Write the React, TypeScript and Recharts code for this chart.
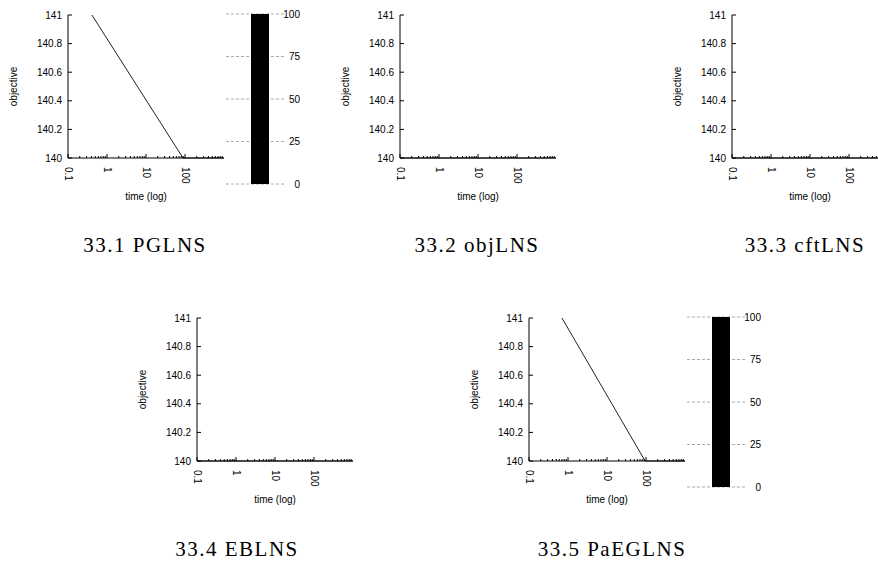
import { LineChart, Line, XAxis, YAxis, BarChart, Bar, CartesianGrid } from 'recharts'

// objective over time, one row per run
const pglnsTime = [0.41, 89, 1000]
const pglnsObjective = [141, 140, 140]
const objlnsTime = [0.1, 1000]
const objlnsObjective = [140, 140]
const cftlnsTime = [0.1, 1000]
const cftlnsObjective = [140, 140]
const eblnsTime = [0.1, 1000]
const eblnsObjective = [140, 140]
const paeglnsTime = [0.7, 95, 1000]
const paeglnsObjective = [141, 140, 140]

// share bars next to the PGLNS / PaEGLNS plots
const pglnsShare = [100]
const paeglnsShare = [100]

const majorTimeTicks = [0.1, 1, 10, 100]
const minorTimeTicks = [
  0.2, 0.3, 0.4, 0.5, 0.6, 0.7, 0.8, 0.9,
  2, 3, 4, 5, 6, 7, 8, 9,
  20, 30, 40, 50, 60, 70, 80, 90,
  200, 300, 400, 500, 600, 700, 800, 900,
]
const objectiveTicks = [140, 140.2, 140.4, 140.6, 140.8, 141]
const shareTicks = [0, 25, 50, 75, 100]

const sans = '"Liberation Sans", Arial, sans-serif'

const toRows = (time: number[], obj: number[]) => time.map((t, i) => ({ t, v: obj[i] }))

function TimeTick({ x, y, payload }: any) {
  const v = payload.value
  const major = majorTimeTicks.includes(v)
  const ty = y + 9
  return (
    <g>
      <line x1={x} x2={x} y1={y} y2={y - (major ? 4 : 2)} stroke="#000" strokeWidth={1} />
      {major && (
        <text
          x={x}
          y={ty}
          dy="0.35em"
          transform={`rotate(90 ${x} ${ty})`}
          fontSize={10}
          fontFamily={sans}
          fill="#000"
          textAnchor="start"
        >
          {v}
        </text>
      )}
    </g>
  )
}

function ObjectiveTick({ x, y, payload }: any) {
  return (
    <g>
      <line x1={x + 6} x2={x + 10} y1={y} y2={y} stroke="#000" strokeWidth={1} />
      <text x={x} y={y} dy="0.35em" fontSize={10} fontFamily={sans} fill="#000" textAnchor="end">
        {payload.value}
      </text>
    </g>
  )
}

function ShareTick({ x, y, payload }: any) {
  return (
    <text x={x + 14} y={y} dy="0.35em" fontSize={10} fontFamily={sans} fill="#000" textAnchor="end">
      {payload.value}
    </text>
  )
}

function LogPanel({ axisX, topY, rows }: { axisX: number; topY: number; rows: { t: number; v: number }[] }) {
  return (
    <div style={{ position: 'absolute', left: axisX - 68, top: topY - 15 }}>
      <LineChart width={240} height={205} data={rows} margin={{ top: 15, right: 16, left: 0, bottom: 12 }}>
        <XAxis
          dataKey="t"
          type="number"
          scale="log"
          domain={[0.1, 1000]}
          ticks={[...majorTimeTicks, ...minorTimeTicks]}
          interval={0}
          tickSize={0}
          tickMargin={0}
          tickLine={false}
          tick={<TimeTick />}
          height={35}
          axisLine={{ stroke: '#000' }}
          label={{ value: 'time (log)', position: 'bottom', offset: 0, fontSize: 10, fontFamily: sans, fill: '#000' }}
        />
        <YAxis
          type="number"
          domain={[140, 141]}
          ticks={objectiveTicks}
          interval={0}
          width={68}
          tickSize={0}
          tickMargin={6}
          tickLine={false}
          tick={<ObjectiveTick />}
          axisLine={{ stroke: '#000' }}
          label={{
            value: 'objective',
            angle: -90,
            position: 'insideLeft',
            offset: 13,
            fontSize: 10,
            fontFamily: sans,
            fill: '#000',
            style: { textAnchor: 'middle' },
          }}
        />
        <Line dataKey="v" type="linear" stroke="#222" strokeWidth={1} dot={false} isAnimationActive={false} />
      </LineChart>
    </div>
  )
}

function SharePanel({ gridX, topY, values }: { gridX: number; topY: number; values: number[] }) {
  const rows = values.map((v) => ({ name: '', v }))
  return (
    <div style={{ position: 'absolute', left: gridX, top: topY - 6 }}>
      <BarChart width={76} height={182} data={rows} margin={{ top: 6, right: 0, left: 0, bottom: 6 }} barSize={18}>
        <CartesianGrid vertical={false} stroke="#aaa" strokeDasharray="3 2" />
        <XAxis dataKey="name" hide padding={{ left: 8, right: 0 }} />
        <YAxis
          orientation="right"
          type="number"
          domain={[0, 100]}
          ticks={shareTicks}
          interval={0}
          width={16}
          tickSize={0}
          tickMargin={0}
          tickLine={false}
          axisLine={false}
          tick={<ShareTick />}
        />
        <Bar dataKey="v" fill="#000" isAnimationActive={false} />
      </BarChart>
    </div>
  )
}

function Caption({ cx, baseline, text }: { cx: number; baseline: number; text: string }) {
  return (
    <div
      style={{
        position: 'absolute',
        left: cx - 120,
        width: 240,
        top: baseline - 17.6,
        textAlign: 'center',
        fontFamily: '"Liberation Serif", "Times New Roman", serif',
        fontSize: 21,
        lineHeight: '21px',
        letterSpacing: 1.5,
        color: '#000',
        whiteSpace: 'nowrap',
      }}
    >
      {text}
    </div>
  )
}

export default function App() {
  return (
    <div
      style={{
        position: 'absolute',
        left: 0,
        top: 0,
        width: 878,
        height: 565,
        overflow: 'hidden',
        background: '#fff',
      }}
    >
      <LogPanel axisX={68} topY={15} rows={toRows(pglnsTime, pglnsObjective)} />
      <SharePanel gridX={226} topY={14} values={pglnsShare} />
      <LogPanel axisX={400} topY={15} rows={toRows(objlnsTime, objlnsObjective)} />
      <LogPanel axisX={732} topY={15} rows={toRows(cftlnsTime, cftlnsObjective)} />
      <LogPanel axisX={197} topY={318} rows={toRows(eblnsTime, eblnsObjective)} />
      <LogPanel axisX={529} topY={318} rows={toRows(paeglnsTime, paeglnsObjective)} />
      <SharePanel gridX={687} topY={317} values={paeglnsShare} />

      <Caption cx={145} baseline={253} text="33.1 PGLNS" />
      <Caption cx={477} baseline={253} text="33.2 objLNS" />
      <Caption cx={805} baseline={253} text="33.3 cftLNS" />
      <Caption cx={237} baseline={557} text="33.4 EBLNS" />
      <Caption cx={612} baseline={557} text="33.5 PaEGLNS" />
    </div>
  )
}
